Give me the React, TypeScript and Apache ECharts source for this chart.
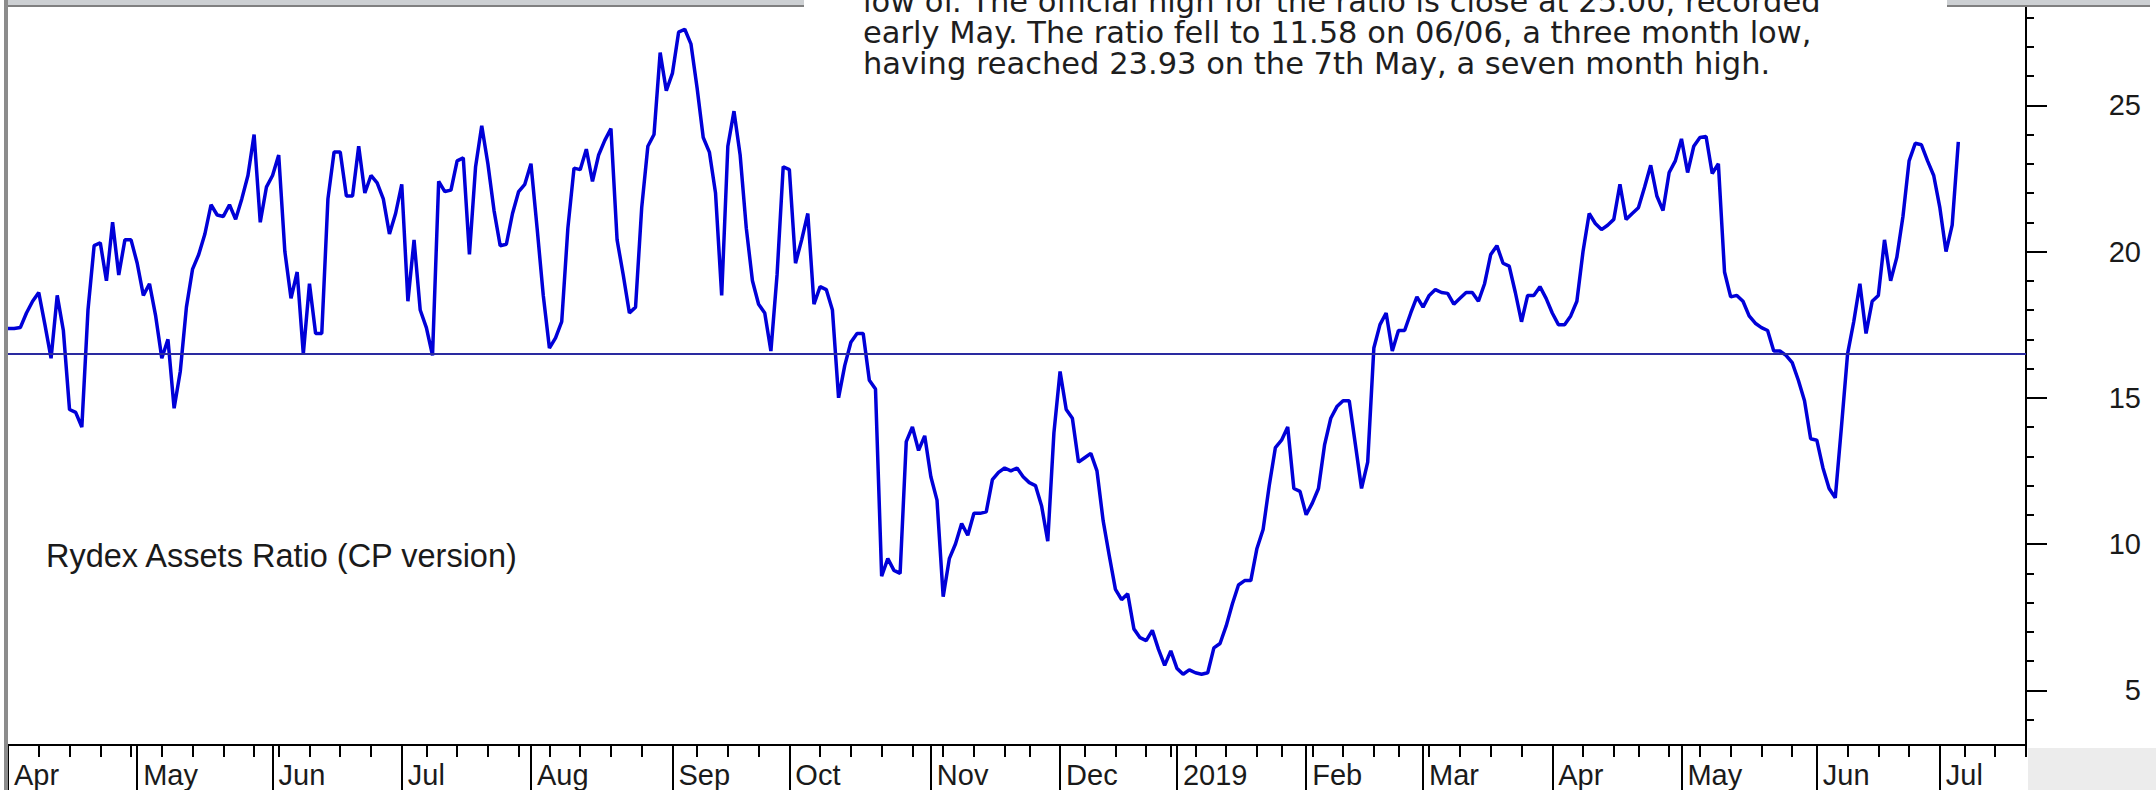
import React, { useEffect, useRef } from 'react';
import * as echarts from 'echarts';

// ---- data -------------------------------------------------------------
const START_DATE = '2018-04-02';
const END_DATE = '2019-07-22';
const HOLIDAYS = [
  '2018-05-28', '2018-07-04', '2018-09-03', '2018-11-22', '2018-12-05', '2018-12-25',
  '2019-01-01', '2019-01-21', '2019-02-18', '2019-04-19', '2019-05-27', '2019-07-04',
];
const MONTH_NAMES = ['Jan', 'Feb', 'Mar', 'Apr', 'May', 'Jun', 'Jul', 'Aug', 'Sep', 'Oct', 'Nov', 'Dec'];
const Y_MAJOR_TICKS = [5, 10, 15, 20, 25];
const Y_MINOR_TICKS = [4, 6, 7, 8, 9, 11, 12, 13, 14, 16, 17, 18, 19, 21, 22, 23, 24, 26, 27, 28];
const REFERENCE_LEVEL = 16.5;
const SERIES_NAME = 'Rydex Assets Ratio (CP version)';
const NOTE_LINES = [
  'low of. The official high for the ratio is close at 25.00, recorded',
  'early May. The ratio fell to 11.58 on 06/06, a three month low,',
  'having reached 23.93 on the 7th May, a seven month high.',
];

// daily ratio, one value per trading day starting 2018-04-02
const RATIO = [
  17.37, 17.37, 17.4, 17.9, 18.3, 18.6, 17.5, 16.35, 18.5, 17.3,
  14.6, 14.5, 14.0, 18.0, 20.2, 20.3, 19.0, 21.0, 19.2, 20.4,
  20.4, 19.6, 18.5, 18.9, 17.8, 16.35, 17.0, 14.64, 15.9, 18.1,
  19.4, 19.9, 20.6, 21.6, 21.25, 21.2, 21.6, 21.1, 21.8, 22.6,
  24.0, 21.0, 22.2, 22.6, 23.3, 20.0, 18.4, 19.3, 16.5, 18.9,
  17.2, 17.2, 21.8, 23.4, 23.4, 21.9, 21.9, 23.6, 22.0, 22.6,
  22.35, 21.8, 20.6, 21.3, 22.3, 18.3, 20.4, 18.0, 17.4, 16.45,
  22.4, 22.05, 22.1, 23.1, 23.2, 19.9, 22.9, 24.3, 23.0, 21.4,
  20.2, 20.25, 21.3, 22.05, 22.3, 23.0, 20.8, 18.5, 16.7, 17.05,
  17.6, 20.8, 22.85, 22.8, 23.5, 22.4, 23.3, 23.8, 24.2, 20.4,
  19.2, 17.9, 18.1, 21.5, 23.6, 24.0, 26.8, 25.5, 26.1, 27.5,
  27.6, 27.1, 25.6, 23.9, 23.4, 22.0, 18.5, 23.6, 24.8, 23.3,
  20.8, 19.0, 18.2, 17.9, 16.6, 19.2, 22.9, 22.8, 19.6, 20.4,
  21.3, 18.2, 18.8, 18.7, 18.0, 15.0, 16.1, 16.9, 17.2, 17.2,
  15.6, 15.3, 8.9, 9.5, 9.1, 9.0, 13.5, 14.0, 13.2, 13.7,
  12.3, 11.5, 8.2, 9.5, 10.0, 10.7, 10.3, 11.05, 11.05, 11.1,
  12.2, 12.45, 12.6, 12.5, 12.6, 12.3, 12.1, 12.0, 11.3, 10.1,
  13.8, 15.9, 14.6, 14.3, 12.8, 12.95, 13.1, 12.5, 10.8, 9.6,
  8.45, 8.1, 8.3, 7.1, 6.8, 6.7, 7.05, 6.4, 5.85, 6.35,
  5.75, 5.55, 5.7, 5.6, 5.55, 5.6, 6.45, 6.6, 7.2, 7.95,
  8.6, 8.75, 8.75, 9.85, 10.5, 12.0, 13.3, 13.55, 14.0, 11.9,
  11.8, 11.0, 11.4, 11.9, 13.4, 14.3, 14.7, 14.9, 14.9, 13.4,
  11.9, 12.8, 16.7, 17.5, 17.9, 16.6, 17.3, 17.3, 17.9, 18.45,
  18.1, 18.5, 18.7, 18.6, 18.57, 18.2, 18.4, 18.6, 18.6, 18.3,
  18.9, 19.9, 20.2, 19.6, 19.5, 18.6, 17.6, 18.5, 18.5, 18.8,
  18.4, 17.9, 17.5, 17.5, 17.8, 18.3, 20.0, 21.3, 20.96, 20.75,
  20.9, 21.1, 22.3, 21.1, 21.3, 21.5, 22.2, 22.95, 21.9, 21.4,
  22.7, 23.1, 23.85, 22.7, 23.6, 23.9, 23.93, 22.67, 23.0, 19.3,
  18.45, 18.5, 18.3, 17.8, 17.55, 17.4, 17.3, 16.6, 16.6, 16.45,
  16.2, 15.6, 14.9, 13.6, 13.55, 12.6, 11.9, 11.58, 14.0, 16.5,
  17.6, 18.9, 17.2, 18.3, 18.5, 20.4, 19.0, 19.8, 21.2, 23.1,
  23.7, 23.65, 23.1, 22.6, 21.5, 20.0, 20.9, 23.75,
];

// ---- helpers ----------------------------------------------------------
function tradingDays(): string[] {
  const out: string[] = [];
  const hol = new Set(HOLIDAYS);
  const d = new Date(START_DATE + 'T00:00:00Z');
  const end = new Date(END_DATE + 'T00:00:00Z');
  while (d.getTime() <= end.getTime()) {
    const wd = d.getUTCDay();
    const s = d.toISOString().slice(0, 10);
    if (wd !== 0 && wd !== 6 && !hol.has(s)) out.push(s);
    d.setUTCDate(d.getUTCDate() + 1);
  }
  return out;
}

const DAYS = tradingDays();
const weekday = (s: string) => new Date(s + 'T00:00:00Z').getUTCDay();
const isWeekStart = (i: number) => i === 0 || weekday(DAYS[i]) < weekday(DAYS[i - 1]);
const isMonthStart = (i: number) => i === 0 || DAYS[i].slice(5, 7) !== DAYS[i - 1].slice(5, 7);

const AXIS_FONT = '"Liberation Sans", Arial, Helvetica, sans-serif';
const NOTE_FONT = '30.5px "DejaVu Sans", Verdana, sans-serif';
const Y_MIN = 3.13;
const Y_MAX = 28.36;

export default function App() {
  const ref = useRef<HTMLDivElement>(null);

  useEffect(() => {
    if (!ref.current) return;
    const chart = echarts.init(ref.current, null, { renderer: 'svg' });

    const option: any = {
      animation: false,
      backgroundColor: '#ffffff',
      grid: { left: 8, right: 130, top: 7, bottom: 45, containLabel: false },
      xAxis: [
        {
          type: 'category',
          data: DAYS,
          boundaryGap: false,
          position: 'bottom',
          axisLine: { show: true, lineStyle: { color: '#000', width: 2 } },
          axisTick: {
            show: true,
            interval: (i: number) => isWeekStart(i),
            length: 12,
            lineStyle: { color: '#000', width: 2 },
          },
          axisLabel: { show: false },
          splitLine: { show: false },
        },
        {
          type: 'category',
          data: DAYS,
          boundaryGap: false,
          position: 'bottom',
          axisLine: { show: false },
          axisTick: {
            show: true,
            interval: (i: number) => isMonthStart(i),
            length: 46,
            lineStyle: { color: '#000', width: 2 },
          },
          axisLabel: {
            show: true,
            interval: (i: number) => isMonthStart(i),
            formatter: (v: string) => {
              const m = Number(v.slice(5, 7)) - 1;
              return m === 0 ? v.slice(0, 4) : MONTH_NAMES[m];
            },
            align: 'left',
            padding: [0, 0, 0, 6],
            margin: 15,
            fontSize: 29,
            fontFamily: AXIS_FONT,
            color: '#1a1a1a',
          },
          splitLine: { show: false },
        },
      ],
      yAxis: [
        {
          type: 'value',
          position: 'right',
          min: Y_MIN,
          max: Y_MAX,
          axisLine: { show: true, lineStyle: { color: '#000', width: 2 } },
          axisTick: {
            show: true,
            customValues: Y_MAJOR_TICKS,
            length: 21,
            lineStyle: { color: '#000', width: 2 },
          },
          axisLabel: {
            show: true,
            customValues: Y_MAJOR_TICKS,
            align: 'right',
            margin: 115,
            fontSize: 29,
            fontFamily: AXIS_FONT,
            color: '#1a1a1a',
          },
          splitLine: { show: false },
        },
        {
          type: 'value',
          position: 'right',
          min: Y_MIN,
          max: Y_MAX,
          axisLine: { show: false },
          axisTick: {
            show: true,
            customValues: Y_MINOR_TICKS,
            length: 8,
            lineStyle: { color: '#000', width: 2 },
          },
          axisLabel: { show: false },
          splitLine: { show: false },
        },
      ],
      series: [
        {
          name: SERIES_NAME,
          type: 'line',
          xAxisIndex: 0,
          yAxisIndex: 0,
          data: RATIO,
          showSymbol: false,
          symbol: 'none',
          lineStyle: { color: '#0000d8', width: 3.5 },
          z: 3,
          markLine: {
            silent: true,
            symbol: ['none', 'none'],
            label: { show: false },
            lineStyle: { color: '#2a2aa0', width: 2, type: 'solid' },
            data: [{ yAxis: REFERENCE_LEVEL }],
          },
        },
      ],
      graphic: [
        { type: 'rect', shape: { x: 4, y: 0, width: 4, height: 790 }, style: { fill: '#8c8c8c' }, z: 10 },
        { type: 'rect', shape: { x: 8, y: 0, width: 796, height: 7 }, style: { fill: '#cdd0d3' }, z: 10 },
        { type: 'line', shape: { x1: 8, y1: 6, x2: 804, y2: 6 }, style: { stroke: '#808080', lineWidth: 2 }, z: 10 },
        { type: 'rect', shape: { x: 1947, y: 0, width: 203, height: 7 }, style: { fill: '#cdd0d3' }, z: 10 },
        { type: 'line', shape: { x1: 1947, y1: 6, x2: 2150, y2: 6 }, style: { stroke: '#808080', lineWidth: 2 }, z: 10 },
        { type: 'rect', shape: { x: 2028, y: 748, width: 128, height: 42 }, style: { fill: '#ececec' }, z: 10 },
        {
          type: 'text', x: 863, y: 1, z: 11,
          style: { text: NOTE_LINES[0], fill: '#1e1e1e', font: NOTE_FONT, textVerticalAlign: 'middle' },
        },
        {
          type: 'text', x: 863, y: 32, z: 11,
          style: { text: NOTE_LINES[1], fill: '#1e1e1e', font: NOTE_FONT, textVerticalAlign: 'middle' },
        },
        {
          type: 'text', x: 863, y: 63, z: 11,
          style: { text: NOTE_LINES[2], fill: '#1e1e1e', font: NOTE_FONT, textVerticalAlign: 'middle' },
        },
        {
          type: 'text', x: 46, y: 556, z: 11,
          style: { text: SERIES_NAME, fill: '#1a1a1a', font: '32.5px "Liberation Sans", Arial, sans-serif', textVerticalAlign: 'middle' },
        },
      ],
    };

    chart.setOption(option);
    return () => chart.dispose();
  }, []);

  return (
    <div
      ref={ref}
      style={{ position: 'absolute', left: 0, top: 0, width: 2156, height: 790, background: '#ffffff' }}
    />
  );
}
